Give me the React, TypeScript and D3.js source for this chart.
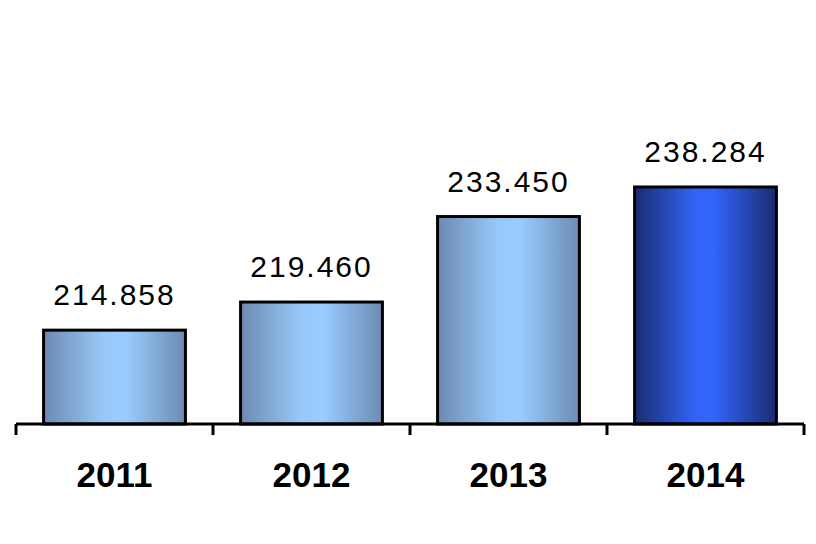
import * as d3 from "d3";

const years: string[] = ["2011", "2012", "2013", "2014"];
const values: number[] = [214.858, 219.46, 233.45, 238.284];
const valueLabels: string[] = ["214.858", "219.460", "233.450", "238.284"];
const highlightYear = "2014";

export default function App() {
  const width = 816;
  const height = 544;
  const axisY = 424;
  const top = 187;

  const x = d3.scaleBand<string>(years, [16, 804]);
  const barW = x.bandwidth() * 0.72;

  const y = d3.scaleLinear([199.5, d3.max(values) as number], [axisY, top]);

  return (
    <svg
      width={width}
      height={height}
      style={{ position: "absolute", left: 0, top: 0, background: "#fff" }}
    >
      <defs>
        <linearGradient id="light" x1="0" x2="1" y1="0" y2="0">
          <stop offset="0" stopColor="#6c89b2" />
          <stop offset="0.42" stopColor="#98c8f8" />
          <stop offset="0.58" stopColor="#99ccff" />
          <stop offset="1" stopColor="#6d8bb3" />
        </linearGradient>
        <linearGradient id="dark" x1="0" x2="1" y1="0" y2="0">
          <stop offset="0" stopColor="#1a2c70" />
          <stop offset="0.42" stopColor="#3263f5" />
          <stop offset="0.55" stopColor="#3366ff" />
          <stop offset="1" stopColor="#1a2c70" />
        </linearGradient>
      </defs>

      {years.map((yr, i) => {
        const bx = (x(yr) as number) + (x.bandwidth() - barW) / 2;
        const by = y(values[i]);
        return (
          <g key={yr}>
            <rect
              x={bx}
              y={by}
              width={barW}
              height={axisY - by}
              fill={yr === highlightYear ? "url(#dark)" : "url(#light)"}
              stroke="#000"
              strokeWidth={3}
            />
            <text
              x={bx + barW / 2}
              y={by - 25}
              textAnchor="middle"
              fontFamily="'Liberation Sans', Arial, sans-serif"
              fontSize={30}
              letterSpacing={2}
              fill="#000"
            >
              {valueLabels[i]}
            </text>
            <text
              x={bx + barW / 2}
              y={487}
              textAnchor="middle"
              fontFamily="'Liberation Sans', Arial, sans-serif"
              fontSize={35}
              fontWeight="bold"
              fill="#000"
            >
              {yr}
            </text>
          </g>
        );
      })}

      <line x1={16} x2={804} y1={axisY} y2={axisY} stroke="#000" strokeWidth={3} />
      {[...years.map((yr) => x(yr) as number), 804].map((tx, i) => (
        <line key={i} x1={tx} x2={tx} y1={axisY} y2={axisY + 11} stroke="#000" strokeWidth={3} />
      ))}
    </svg>
  );
}
